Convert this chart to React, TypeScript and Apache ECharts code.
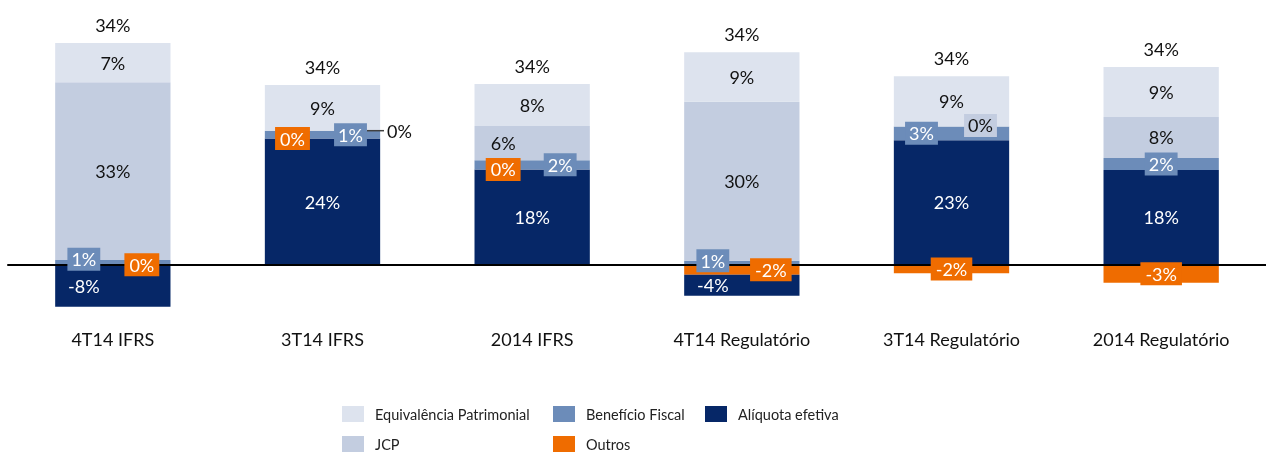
import React, { useEffect, useRef } from 'react';
import * as echarts from 'echarts';

// ---------- data ----------
const categories = ['4T14 IFRS', '3T14 IFRS', '2014 IFRS', '4T14 Regulatório', '3T14 Regulatório', '2014 Regulatório'];
const equivalencia = [7.4, 8.6, 7.9, 9.3, 9.4, 9.4];
const jcp = [33.4, 0, 6.4, 29.9, 0, 7.7];
const beneficio = [0.88, 1.49, 1.75, 0.75, 2.6, 2.26];
const aliquota = [-7.9, 23.7, 17.9, -3.95, 23.4, 17.8];
const outros = [0, 0, 0, -1.9, -1.6, -3.4];
const aliquotaNominal = [34, 34, 34, 34, 34, 34];

// ---------- layout / style ----------
const FONT = 'Lato';
const FS = 18;
const C_EQ = '#dde3ee';
const C_JCP = '#c3cde0';
const C_BEN = '#6c8cb9';
const C_ALQ = '#062767';
const C_OUT = '#ef6c00';
const TXT = '#111';

const benDx = [-29, 28, 28, -29, -30, 0];
const benDy = [-3, 0, 0, -2, 0, 0];
const alqDx = [-29, 0, 0, -29, 0, 0];
const outDx = [29, -30, -29, 29, 0, 0];
const jcpKind = ['plain', 'leader', 'plain', 'plain', 'box', 'plain'];
const jcpDx = [0, 0, -29, 0, 29, 0];

const pct = (v: number) => `${Math.round(v)}%`;

// label anchors follow the stacking of the bars
const posOrder = [aliquota, outros, beneficio, jcp, equivalencia];
const negOrder = [outros, aliquota];
function anchor(arr: number[], i: number): number {
  const v = arr[i];
  if (v < 0) {
    let base = 0;
    for (const a of negOrder) {
      if (a === arr) break;
      if (a[i] < 0) base += a[i];
    }
    return base + v / 2;
  }
  let base = 0;
  for (const a of posOrder) {
    if (a === arr) break;
    if (a[i] > 0) base += a[i];
  }
  return base + v / 2;
}
function topOf(i: number): number {
  let s = 0;
  for (const a of posOrder) if (a[i] > 0) s += a[i];
  return s;
}

function labelSeries(name: string, pts: { i: number; y: number; txt: string; dx: number; dy: number }[], label: any) {
  return {
    name,
    type: 'scatter',
    xAxisIndex: 0,
    yAxisIndex: 0,
    symbolSize: 1,
    silent: true,
    z: 10,
    itemStyle: { color: 'rgba(0,0,0,0)', opacity: 1 },
    data: pts.map((p) => ({ value: [p.i, p.y], txt: p.txt, label: { offset: [p.dx, p.dy] } })),
    label: {
      show: true,
      position: 'inside',
      fontFamily: FONT,
      fontSize: FS,
      opacity: 1,
      formatter: (p: any) => p.data.txt,
      ...label,
    },
  };
}

const idx = categories.map((_, i) => i);

export default function App() {
  const ref = useRef<HTMLDivElement>(null);
  useEffect(() => {
    if (!ref.current) return;
    const chart = echarts.init(ref.current, undefined, { renderer: 'svg' });

    const barBase = { type: 'bar', stack: 'total', barWidth: '55%', xAxisIndex: 0, yAxisIndex: 0, silent: true };

    const series: any[] = [
      { ...barBase, name: 'Outros', data: outros, itemStyle: { color: C_OUT } },
      { ...barBase, name: 'Alíquota efetiva', data: aliquota, itemStyle: { color: C_ALQ } },
      { ...barBase, name: 'Benefício Fiscal', data: beneficio, itemStyle: { color: C_BEN } },
      { ...barBase, name: 'JCP', data: jcp, itemStyle: { color: C_JCP } },
      { ...barBase, name: 'Equivalência Patrimonial', data: equivalencia, itemStyle: { color: C_EQ } },

      labelSeries('lblEq', idx.map((i) => ({ i, y: anchor(equivalencia, i), txt: pct(equivalencia[i]), dx: 0, dy: 0 })), { color: TXT }),
      labelSeries('lblJcp', idx.filter((i) => jcpKind[i] === 'plain').map((i) => ({ i, y: anchor(jcp, i), txt: pct(jcp[i]), dx: jcpDx[i], dy: 0 })), { color: TXT }),
      labelSeries('lblJcpBox', idx.filter((i) => jcpKind[i] === 'box').map((i) => ({ i, y: anchor(jcp, i), txt: pct(jcp[i]), dx: jcpDx[i], dy: -1 })), {
        color: TXT, backgroundColor: C_JCP, padding: [3, 4, 2, 4],
      }),
      labelSeries('lblJcpLeader', idx.filter((i) => jcpKind[i] === 'leader').map((i) => ({ i, y: anchor(jcp, i), txt: pct(jcp[i]), dx: 0, dy: 0 })), {
        position: 'right',
        distance: 44,
        formatter: (p: any) => `{ln| }{t|${p.data.txt}}`,
        rich: {
          ln: { width: 17, height: 1.5, backgroundColor: '#404040' },
          t: { fontFamily: FONT, fontSize: FS, color: TXT, padding: [0, 0, 0, 3] },
        },
      }),
      labelSeries('lblBen', idx.map((i) => ({ i, y: anchor(beneficio, i), txt: pct(beneficio[i]), dx: benDx[i], dy: benDy[i] })), {
        color: '#fff', backgroundColor: C_BEN, padding: [3, 4, 2, 4],
      }),
      labelSeries('lblAlq', idx.map((i) => ({ i, y: anchor(aliquota, i), txt: pct(aliquota[i]), dx: alqDx[i], dy: 0 })), { color: '#fff' }),
      labelSeries('lblOut', idx.map((i) => ({ i, y: anchor(outros, i), txt: pct(outros[i]), dx: outDx[i], dy: 0 })), {
        color: '#fff', backgroundColor: C_OUT, padding: [3, 5, 2, 5],
      }),
      labelSeries('lblTop', idx.map((i) => ({ i, y: topOf(i), txt: pct(aliquotaNominal[i]), dx: 0, dy: -18 })), { color: TXT }),
    ];

    const legendItems = [
      { name: 'Equivalência Patrimonial', left: 342, top: 406 },
      { name: 'Benefício Fiscal', left: 553, top: 406 },
      { name: 'Alíquota efetiva', left: 705, top: 406 },
      { name: 'JCP', left: 342, top: 436 },
      { name: 'Outros', left: 553, top: 436 },
    ];

    chart.setOption({
      animation: false,
      grid: { left: 8, right: -6, top: 25.3, bottom: 134.1, containLabel: false },
      xAxis: [
        {
          type: 'category',
          data: categories,
          position: 'bottom',
          z: 5,
          axisLine: { show: true, onZero: true, lineStyle: { color: '#000', width: 2 } },
          axisTick: { show: false },
          axisLabel: { show: false },
          splitLine: { show: false },
        },
        {
          type: 'category',
          data: categories,
          position: 'bottom',
          axisLine: { show: false, onZero: false },
          axisTick: { show: false },
          axisLabel: { show: true, margin: 12, fontFamily: FONT, fontSize: FS, color: TXT },
          splitLine: { show: false },
        },
      ],
      yAxis: { type: 'value', min: -10, max: 45, show: false, splitLine: { show: false } },
      legend: legendItems.map((l) => ({
        data: [l.name],
        left: l.left,
        top: l.top,
        padding: 0,
        itemWidth: 22,
        itemHeight: 16,
        icon: 'rect',
        selectedMode: false,
        textStyle: { fontFamily: FONT, fontSize: 14.5, color: '#222', padding: [0, 0, 0, 6] },
      })),
      series,
    });
    return () => chart.dispose();
  }, []);
  return <div ref={ref} style={{ position: 'fixed', left: 0, top: 0, width: 1266, height: 452 }} />;
}
